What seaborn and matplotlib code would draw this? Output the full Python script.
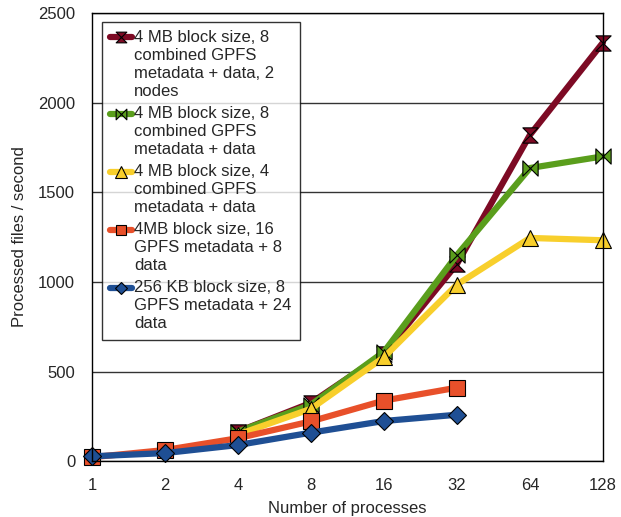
import matplotlib
matplotlib.use("Agg")
import matplotlib.pyplot as plt
import seaborn as sns
import numpy as np
import pandas as pd
from matplotlib.path import Path
from matplotlib.legend_handler import HandlerLine2D

procs_4up = [4, 8, 16, 32, 64, 128]
procs_32 = [1, 2, 4, 8, 16, 32]

red_vals = [165, 325, 600, 1100, 1820, 2335]
green_vals = [165, 315, 610, 1150, 1635, 1700]
yellow_vals = [148, 292, 580, 985, 1245, 1232]
orange_vals = [22, 62, 128, 222, 338, 410]
blue_vals = [27, 45, 90, 159, 224, 259]

labels = [
    "4 MB block size, 8\ncombined GPFS\nmetadata + data, 2\nnodes",
    "4 MB block size, 8\ncombined GPFS\nmetadata + data",
    "4 MB block size, 4\ncombined GPFS\nmetadata + data",
    "4MB block size, 16\nGPFS metadata + 8\ndata",
    "256 KB block size, 8\nGPFS metadata + 24\ndata",
]
x_ticks = [1, 2, 4, 8, 16, 32, 64, 128]
y_ticks = [0, 500, 1000, 1500, 2000, 2500]

sns.set_style("white")
plt.rcParams['font.family'] = ['Liberation Sans', 'DejaVu Sans']

hourglass = Path([(-1, 1), (1, 1), (-1, -1), (1, -1), (-1, 1)],
                 [Path.MOVETO, Path.LINETO, Path.LINETO, Path.LINETO, Path.CLOSEPOLY])
bowtie = Path([(-1, 1), (1, -1), (1, 1), (-1, -1), (-1, 1)],
              [Path.MOVETO, Path.LINETO, Path.LINETO, Path.LINETO, Path.CLOSEPOLY])

series = [
    (procs_4up, red_vals, "#7d0a24", hourglass, 11),
    (procs_4up, green_vals, "#5a9e1c", bowtie, 11),
    (procs_4up, yellow_vals, "#f8cf2c", "^", 12),
    (procs_32, orange_vals, "#e8502a", "s", 11),
    (procs_32, blue_vals, "#1f4f94", "D", 9),
]


class TopHandler(HandlerLine2D):
    def __init__(self, offset, **kw):
        super().__init__(**kw)
        self.offset = offset

    def create_artists(self, legend, orig_handle, xdescent, ydescent, width,
                       height, fontsize, trans):
        arts = super().create_artists(legend, orig_handle, xdescent, ydescent,
                                      width, height, fontsize, trans)
        for a in arts:
            yd = np.asarray(a.get_ydata(), dtype=float)
            a.set_ydata(yd + self.offset)
        return arts


fig = plt.figure(figsize=(6.21, 5.17), dpi=100)
ax = fig.add_axes([0.148, 0.108, 0.823, 0.867])

for (xs, ys, col, mk, ms), lab in zip(series, labels):
    df = pd.DataFrame({"x": xs, "y": ys})
    sns.lineplot(data=df, x="x", y="y", ax=ax, color=col, linewidth=4.5,
                 marker=mk, markersize=ms, markeredgecolor="black",
                 markeredgewidth=0.8, label=lab, clip_on=False)

ax.set_xscale("log", base=2)
ax.set_xlim(1, 128)
ax.set_ylim(0, 2500)
ax.set_xticks(x_ticks)
ax.set_xticklabels([str(t) for t in x_ticks])
ax.set_yticks(y_ticks)
ax.minorticks_off()
ax.yaxis.grid(True, color="#333333", linewidth=1)
ax.set_axisbelow(True)
for s in ["left", "bottom", "right", "top"]:
    ax.spines[s].set_visible(True)
    ax.spines[s].set_color("black")
    ax.spines[s].set_linewidth(1)
ax.tick_params(axis="both", which="major", direction="out", length=7,
               color="#555555", labelsize=12, pad=5)
ax.set_xlabel("Number of processes", fontsize=12, labelpad=6)
ax.set_ylabel("Processed files / second", fontsize=12, labelpad=8)

handles, labs = ax.get_legend_handles_labels()
line_h = 13.2
hmap = {h: TopHandler(offset=(lab.count("\n")) * line_h / 2.0)
        for h, lab in zip(handles, labs)}
leg = ax.legend(handles, labs, handler_map=hmap,
                loc="upper left", bbox_to_anchor=(0.02, 0.98), fontsize=12,
                frameon=True, fancybox=False, edgecolor="black",
                handlelength=1.3, handletextpad=0.1, labelspacing=0.42,
                borderpad=0.5, borderaxespad=0, markerscale=0.7)
leg.get_frame().set_linewidth(1)
for t in leg.get_texts():
    t.set_linespacing(1.25)

fig.savefig("out.png", dpi=100)
